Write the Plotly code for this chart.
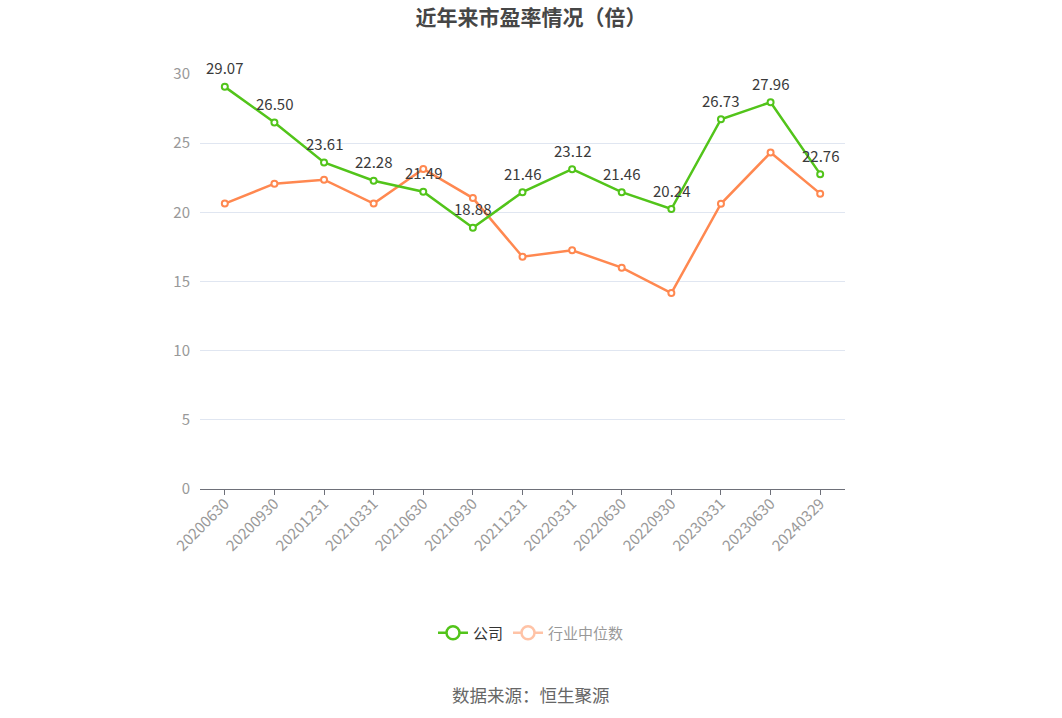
import plotly.graph_objects as go

categories = ["20200630", "20200930", "20201231", "20210331", "20210630", "20210930",
              "20211231", "20220331", "20220630", "20220930", "20230331", "20230630", "20240329"]
company_pe = [29.07, 26.50, 23.61, 22.28, 21.49, 18.88, 21.46, 23.12, 21.46, 20.24, 26.73, 27.96, 22.76]
industry_median_pe = [20.63, 22.07, 22.36, 20.63, 23.14, 21.03, 16.79, 17.26, 16.00, 14.16, 20.62, 24.32, 21.35]
y_ticks = [0, 5, 10, 15, 20, 25, 30]

GREEN = "#52c41a"
ORANGE = "#ff8850"
FONT = "Noto Sans CJK SC"

PLOT_TOP, PLOT_BOTTOM, PLOT_LEFT, PLOT_RIGHT = 74, 489, 200, 845
def paper_y(px):
    return (PLOT_BOTTOM - px) / (PLOT_BOTTOM - PLOT_TOP)
def paper_x(px):
    return (px - PLOT_LEFT) / (PLOT_RIGHT - PLOT_LEFT)

fig = go.Figure()
# actual lines
fig.add_trace(go.Scatter(
    x=categories, y=industry_median_pe, name="行业中位数", mode="lines+markers",
    line=dict(color=ORANGE, width=2.5), cliponaxis=False,
    marker=dict(symbol="circle", size=6, color="white", line=dict(color=ORANGE, width=2)),
    showlegend=False))
fig.add_trace(go.Scatter(
    x=categories, y=company_pe, name="公司", mode="lines+markers",
    line=dict(color=GREEN, width=2.5), cliponaxis=False,
    marker=dict(symbol="circle", size=6, color="white", line=dict(color=GREEN, width=2)),
    showlegend=False))
# legend entries
fig.add_trace(go.Scatter(
    x=[None], y=[None], name="公司", mode="lines+markers",
    line=dict(color=GREEN, width=2.5),
    marker=dict(symbol="circle", size=13, color="white", line=dict(color=GREEN, width=2.5)),
    showlegend=True))
fig.add_trace(go.Scatter(
    x=categories, y=industry_median_pe, name="行业中位数", mode="lines+markers",
    line=dict(color=ORANGE, width=2.5),
    marker=dict(symbol="circle", size=13, color="white", line=dict(color=ORANGE, width=2.5)),
    visible="legendonly", showlegend=True))

# category axis: annotations are positioned by category index
annotations = [dict(x=i, y=v, text=f"{v:.2f}", xref="x", yref="y", showarrow=False,
                    yshift=19, yanchor="middle", xanchor="center",
                    font=dict(size=15, color="#3a3a3a", family=FONT))
               for i, v in enumerate(company_pe)]
annotations.append(dict(text="数据来源：恒生聚源", xref="paper", yref="paper",
                        x=paper_x(531), xanchor="center", y=paper_y(694), yanchor="middle",
                        showarrow=False, font=dict(size=17.5, color="#666", family=FONT)))

fig.update_layout(
    width=1062, height=718,
    paper_bgcolor="white", plot_bgcolor="white",
    margin=dict(l=PLOT_LEFT, r=1062 - PLOT_RIGHT, t=PLOT_TOP, b=718 - PLOT_BOTTOM),
    font=dict(family=FONT, color="#999"),
    title=dict(text="<b>近年来市盈率情况（倍）</b>", x=0.5, xref="container", xanchor="center",
               y=1 - 18 / 718, yref="container", yanchor="middle",
               font=dict(size=21, color="#464646", family=FONT)),
    xaxis=dict(type="category", range=[-0.5, 12.5], tickangle=-45,
               showline=True, linecolor="#6e7079", linewidth=1,
               ticks="outside", ticklen=5, tickcolor="#6e7079",
               ticklabelstandoff=-6,
               tickfont=dict(size=15, color="#999", family=FONT),
               showgrid=False, zeroline=False),
    yaxis=dict(range=[0, 30], tickvals=y_ticks, showgrid=True, gridcolor="#e0e6f1",
               zeroline=False, showline=False, ticks="", ticklabelstandoff=9,
               tickfont=dict(size=15, color="#999", family=FONT)),
    legend=dict(orientation="h", xref="container", yref="container",
                x=0.5, xanchor="center", y=1 - 633 / 718, yanchor="middle",
                font=dict(size=15, color="#333", family=FONT)),
    annotations=annotations,
)
fig.write_html("out.html")
